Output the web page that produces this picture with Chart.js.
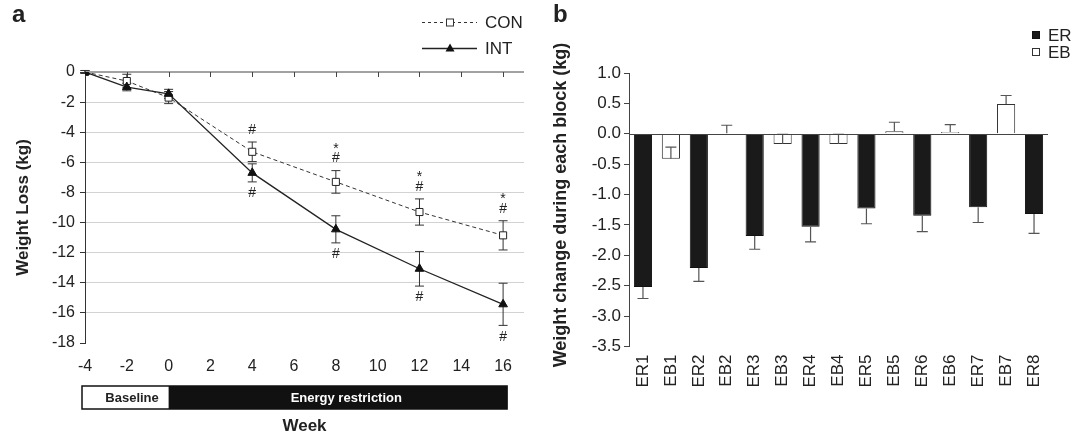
<!DOCTYPE html>
<html>
<head>
<meta charset="utf-8">
<script src="https://cdn.jsdelivr.net/npm/chart.js@4.4.0/dist/chart.umd.min.js"></script>
<style>
  body { margin: 0; background: #fff; }
  #wrap { position: relative; width: 1072px; height: 437px; }
  canvas { position: absolute; top: 0; }
  #lossChart { left: 0; }
  #blockChart { left: 540px; }
</style>
</head>
<body>
<div id="wrap">
  <canvas id="lossChart" width="540" height="437"></canvas>
  <canvas id="blockChart" width="532" height="437"></canvas>
</div>
<script>
// panel a: cumulative weight loss by week
const weeks = [-4, -2, 0, 4, 8, 12, 16];
const conLoss = [0, -0.6, -1.7, -5.3, -7.3, -9.3, -10.85];
const conSem = [0.1, 0.45, 0.4, 0.65, 0.75, 0.87, 0.97];
const intLoss = [0, -1.0, -1.45, -6.7, -10.45, -13.07, -15.43];
const intSem = [0.1, 0.25, 0.3, 0.6, 0.9, 1.15, 1.4];
const conSig = ['', '', '', '#', '*#', '*#', '*#'];
const intSig = ['', '', '', '#', '#', '#', '#'];
const phases = [
  { label: 'Baseline', from: -4, to: 0 },
  { label: 'Energy restriction', from: 0, to: 16 }
];

// panel b: change within each block
const blocks = ['ER1', 'EB1', 'ER2', 'EB2', 'ER3', 'EB3', 'ER4', 'EB4', 'ER5', 'EB5', 'ER6', 'EB6', 'ER7', 'EB7', 'ER8'];
const blockChange = [-2.52, -0.41, -2.21, 0.01, -1.68, -0.17, -1.53, -0.17, -1.23, 0.04, -1.35, 0.03, -1.21, 0.49, -1.32];
const blockSem = [0.19, 0.19, 0.22, 0.13, 0.22, 0.16, 0.25, 0.16, 0.25, 0.15, 0.26, 0.12, 0.25, 0.14, 0.32];

const FONT = '"Liberation Sans", Arial, sans-serif';
Chart.defaults.font.family = FONT;
Chart.defaults.color = '#222';

function errorCap(ctx, x, y0, y1, half) {
  ctx.beginPath();
  ctx.moveTo(x, y0);
  ctx.lineTo(x, y1);
  ctx.moveTo(x - half, y1);
  ctx.lineTo(x + half, y1);
  ctx.stroke();
}

const lossDecor = {
  id: 'lossDecor',
  beforeDatasetsDraw(chart) {
    const { ctx, chartArea: a, scales: { x, y } } = chart;
    ctx.save();
    // horizontal axis sits on the zero line with ticks pointing down
    const y0 = y.getPixelForValue(0);
    ctx.strokeStyle = '#444';
    ctx.lineWidth = 1;
    ctx.beginPath();
    ctx.moveTo(a.left, y0);
    ctx.lineTo(a.right, y0);
    x.ticks.forEach(t => {
      const px = Math.round(x.getPixelForValue(t.value)) + 0.5;
      ctx.moveTo(px, y0);
      ctx.lineTo(px, y0 + 5);
    });
    ctx.stroke();
    // error bars (both directions)
    chart.data.datasets.forEach((ds, d) => {
      const meta = chart.getDatasetMeta(d);
      ctx.strokeStyle = '#333';
      ctx.lineWidth = 1;
      meta.data.forEach((pt, i) => {
        const v = ds.data[i].y;
        const top = y.getPixelForValue(v + ds.sem[i]);
        const bot = y.getPixelForValue(v - ds.sem[i]);
        errorCap(ctx, pt.x, pt.y, top, 4.5);
        errorCap(ctx, pt.x, pt.y, bot, 4.5);
      });
    });
    ctx.restore();
  },
  afterDatasetsDraw(chart) {
    const { ctx, scales: { y } } = chart;
    ctx.save();
    ctx.fillStyle = '#222';
    ctx.textAlign = 'center';
    ctx.textBaseline = 'middle';
    ctx.font = '14px ' + FONT;
    chart.data.datasets.forEach((ds, d) => {
      const meta = chart.getDatasetMeta(d);
      meta.data.forEach((pt, i) => {
        const marks = ds.sig[i];
        if (!marks) return;
        const v = ds.data[i].y;
        if (ds.sigAbove) {
          // stacked upward from the top of the error bar, last char nearest
          let py = y.getPixelForValue(v + ds.sem[i]) - 12;
          for (let k = marks.length - 1; k >= 0; k--) {
            const ch = marks[k];
            ctx.fillText(ch, pt.x, ch === '*' ? py + 4 : py);
            py -= 13.5;
          }
        } else {
          let py = y.getPixelForValue(v - ds.sem[i]) + 11.5;
          for (const ch of marks) {
            ctx.fillText(ch, pt.x, py);
            py += 13.5;
          }
        }
      });
    });
    ctx.restore();
  },
  afterDraw(chart) {
    const { ctx, chartArea: a, scales: { x } } = chart;
    ctx.save();
    // study phase bar under the week axis
    const by = a.bottom + 43, bh = 23;
    const bx0 = x.getPixelForValue(phases[0].from) - 3;
    const bx1 = x.getPixelForValue(phases[1].to) + 4;
    const bmid = x.getPixelForValue(phases[0].to);
    ctx.fillStyle = '#fff';
    ctx.fillRect(bx0, by, bmid - bx0, bh);
    ctx.fillStyle = '#111';
    ctx.fillRect(bmid, by, bx1 - bmid, bh);
    ctx.strokeStyle = '#111';
    ctx.lineWidth = 1.5;
    ctx.strokeRect(bx0, by, bx1 - bx0, bh);
    ctx.font = 'bold 13px ' + FONT;
    ctx.textAlign = 'center';
    ctx.textBaseline = 'middle';
    ctx.fillStyle = '#222';
    ctx.fillText(phases[0].label, x.getPixelForValue(-1.75), by + bh / 2 + 1);
    ctx.fillStyle = '#fff';
    ctx.fillText(phases[1].label, x.getPixelForValue(8.5), by + bh / 2 + 1);

    // legend
    const lx0 = 422, lx1 = 477, lm = 450;
    ctx.strokeStyle = '#333';
    ctx.lineWidth = 1;
    ctx.setLineDash([3, 3]);
    ctx.beginPath();
    ctx.moveTo(lx0, 22.5); ctx.lineTo(lx1, 22.5);
    ctx.stroke();
    ctx.setLineDash([]);
    ctx.fillStyle = '#fff';
    ctx.fillRect(lm - 3.5, 19, 7, 7);
    ctx.strokeRect(lm - 3.5, 19, 7, 7);
    ctx.lineWidth = 1.3;
    ctx.strokeStyle = '#222';
    ctx.beginPath();
    ctx.moveTo(lx0, 48.5); ctx.lineTo(lx1, 48.5);
    ctx.stroke();
    ctx.fillStyle = '#111';
    ctx.beginPath();
    ctx.moveTo(lm, 43.5); ctx.lineTo(lm + 4.5, 51.5); ctx.lineTo(lm - 4.5, 51.5);
    ctx.closePath();
    ctx.fill();
    ctx.fillStyle = '#222';
    ctx.font = '17px ' + FONT;
    ctx.textAlign = 'left';
    ctx.fillText('CON', 485, 23);
    ctx.fillText('INT', 485, 49);

    ctx.font = 'bold 24px ' + FONT;
    ctx.textBaseline = 'alphabetic';
    ctx.fillText('a', 12, 22);
    ctx.restore();
  }
};

new Chart(document.getElementById('lossChart'), {
  type: 'line',
  data: {
    datasets: [
      {
        label: 'INT',
        order: 0,
        data: weeks.map((w, i) => ({ x: w, y: intLoss[i] })),
        sem: intSem,
        sig: intSig,
        sigAbove: false,
        borderColor: '#222',
        borderWidth: 1.3,
        pointStyle: 'triangle',
        pointRadius: 5,
        pointBackgroundColor: '#111',
        pointBorderColor: '#111',
        pointBorderWidth: 1
      },
      {
        label: 'CON',
        order: 1,
        data: weeks.map((w, i) => ({ x: w, y: conLoss[i] })),
        sem: conSem,
        sig: conSig,
        sigAbove: true,
        borderColor: '#333',
        borderWidth: 1,
        borderDash: [4, 3],
        pointStyle: 'rect',
        pointRadius: 5,
        pointBackgroundColor: '#fff',
        pointBorderColor: '#222',
        pointBorderWidth: 1
      }
    ]
  },
  options: {
    responsive: false,
    animation: false,
    layout: { padding: { top: 72, right: 16, left: 0, bottom: 0 } },
    plugins: { legend: { display: false }, tooltip: { enabled: false } },
    scales: {
      x: {
        type: 'linear',
        min: -4,
        max: 17,
        grid: { display: false, drawTicks: false },
        border: { display: false },
        ticks: { stepSize: 2, includeBounds: false, padding: 14, color: '#222', font: { size: 16 } },
        title: { display: true, text: 'Week', color: '#222', font: { size: 17, weight: 'bold' }, padding: { top: 0, bottom: 0 } },
        afterFit(s) { s.height = 94; }
      },
      y: {
        min: -18,
        max: 0,
        grid: {
          color: c => (c.tick && (c.tick.value === 0 || c.tick.value === -18)) ? 'rgba(0,0,0,0)' : '#d2d2d2',
          tickColor: '#333',
          tickLength: 5
        },
        border: { color: '#333', width: 1 },
        ticks: { stepSize: 2, padding: 5, color: '#222', font: { size: 16 } },
        title: { display: true, text: 'Weight Loss (kg)', color: '#222', font: { size: 17, weight: 'bold' }, padding: { top: 13, bottom: 0 } },
        afterFit(s) { s.width = 85; }
      }
    }
  },
  plugins: [lossDecor]
});

const blockDecor = {
  id: 'blockDecor',
  afterDatasetsDraw(chart) {
    const { ctx, chartArea: a, scales: { y } } = chart;
    ctx.save();
    ctx.strokeStyle = '#555';
    ctx.lineWidth = 1.2;
    chart.data.datasets.forEach((ds, d) => {
      const meta = chart.getDatasetMeta(d);
      meta.data.forEach((bar, i) => {
        const v = ds.data[i];
        if (v === null) return;
        const end = y.getPixelForValue(v + ds.errDir * blockSem[i]);
        errorCap(ctx, bar.x, y.getPixelForValue(v), end, 5.5);
      });
    });
    // zero line
    const y0 = Math.round(y.getPixelForValue(0)) + 0.5;
    ctx.strokeStyle = '#444';
    ctx.lineWidth = 1;
    ctx.beginPath();
    ctx.moveTo(a.left, y0);
    ctx.lineTo(a.right, y0);
    ctx.stroke();
    ctx.restore();
  },
  afterDraw(chart) {
    const { ctx } = chart;
    ctx.save();
    ctx.fillStyle = '#222';
    ctx.font = 'bold 18px ' + FONT;
    ctx.textAlign = 'center';
    ctx.textBaseline = 'middle';
    ctx.translate(21, 205);
    ctx.rotate(-Math.PI / 2);
    ctx.fillText('Weight change during each block (kg)', 0, 0);
    ctx.restore();

    ctx.save();
    // legend
    const sets = chart.data.datasets;
    ctx.font = '17px ' + FONT;
    ctx.textBaseline = 'middle';
    ctx.textAlign = 'left';
    sets.forEach((ds, k) => {
      const cy = 35 + k * 17;
      ctx.fillStyle = ds.backgroundColor;
      ctx.fillRect(492, cy - 4, 8, 8);
      ctx.strokeStyle = ds.borderColor;
      ctx.lineWidth = 1;
      ctx.strokeRect(492.5, cy - 3.5, 7, 7);
      ctx.fillStyle = '#222';
      ctx.fillText(ds.label, 508, cy + 1);
    });
    ctx.font = 'bold 24px ' + FONT;
    ctx.textBaseline = 'alphabetic';
    ctx.fillText('b', 13, 22);
    ctx.restore();
  }
};

new Chart(document.getElementById('blockChart'), {
  type: 'bar',
  data: {
    labels: blocks,
    datasets: [
      {
        label: 'ER',
        data: blocks.map((b, i) => b.startsWith('ER') ? blockChange[i] : null),
        errDir: -1,
        backgroundColor: '#1a1a1a',
        borderColor: '#111',
        borderWidth: 1,
        skipNull: true
      },
      {
        label: 'EB',
        data: blocks.map((b, i) => b.startsWith('EB') ? blockChange[i] : null),
        errDir: 1,
        backgroundColor: '#fff',
        borderColor: '#333',
        borderWidth: 1,
        skipNull: true
      }
    ]
  },
  options: {
    responsive: false,
    animation: false,
    categoryPercentage: 1,
    barPercentage: 0.65,
    layout: { padding: { top: 73, right: 24, left: 0, bottom: 0 } },
    plugins: { legend: { display: false }, tooltip: { enabled: false } },
    scales: {
      x: {
        grid: { display: false, drawTicks: false },
        border: { display: false },
        ticks: { autoSkip: false, minRotation: 90, maxRotation: 90, padding: 8, color: '#222', font: { size: 17 } },
        afterFit(s) { s.height = 90.5; }
      },
      y: {
        min: -3.5,
        max: 1.0,
        grid: { drawOnChartArea: false, tickColor: '#444', tickLength: 5 },
        border: { color: '#444', width: 1 },
        ticks: { stepSize: 0.5, padding: 3, color: '#222', font: { size: 17 }, callback: v => v.toFixed(1) },
        afterFit(s) { s.width = 89; }
      }
    }
  },
  plugins: [blockDecor]
});
</script>
</body>
</html>
